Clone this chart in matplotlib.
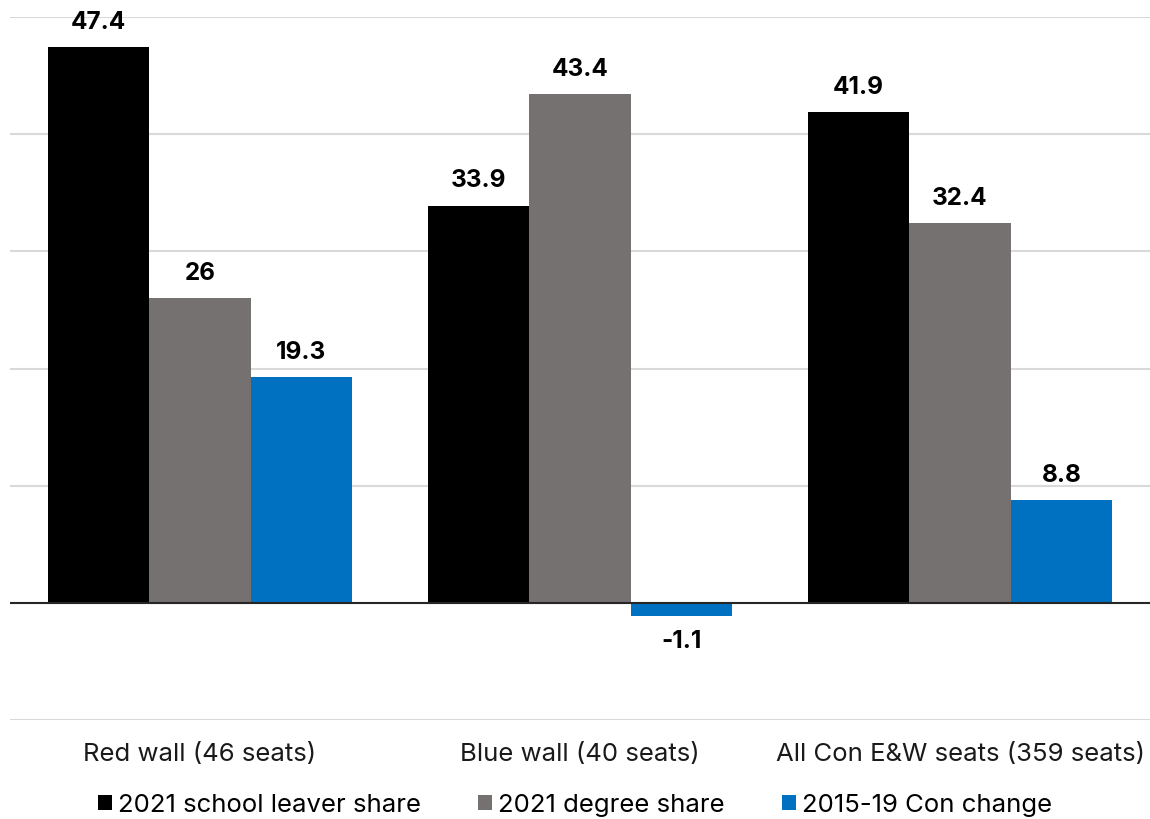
import matplotlib.pyplot as plt
import numpy as np

# data
categories = ["Red wall (46 seats)", "Blue wall (40 seats)",
              "All Con E&W seats (359 seats)"]
series_names = ["2021 school leaver share", "2021 degree share",
                "2015-19 Con change"]
school_leaver = [47.4, 33.9, 41.9]
degree = [26, 43.4, 32.4]
con_change = [19.3, -1.1, 8.8]
value_labels = [["47.4", "33.9", "41.9"],
                ["26", "43.4", "32.4"],
                ["19.3", "-1.1", "8.8"]]

colors = ["#000000", "#767171", "#0070C0"]

plt.rcParams['font.family'] = ['Inter', 'DejaVu Sans']

fig = plt.figure(figsize=(11.5, 8.2), dpi=100)
ax = fig.add_axes([10 / 1150, 1 - 721 / 820, 1140 / 1150, 703 / 820])

x = np.arange(len(categories))
width = 0.8 / 3
all_series = [school_leaver, degree, con_change]

for i, (vals, name, col) in enumerate(zip(all_series, series_names, colors)):
    pos = x + (i - 1) * width
    ax.bar(pos, vals, width, color=col, label=name, zorder=2,
           edgecolor='none')
    for px, v, lab in zip(pos, vals, value_labels[i]):
        off = 18.5 if v >= 0 else -18
        ax.annotate(lab, (px, v), xytext=(0, off), textcoords='offset points',
                    ha='center', va='center', fontsize=17.5,
                    fontweight='bold', annotation_clip=False)

# gridlines and zero line
for gy in np.arange(-10, 51, 10):
    ax.axhline(gy, color='#d9d9d9', linewidth=1.5, zorder=0)
ax.axhline(0, color='#262626', linewidth=1.5, zorder=3)

ax.set_xlim(-0.5, 2.5)
ax.set_ylim(-10, 50)
ax.set_yticks([])
ax.set_xticks([])
for s in ax.spines.values():
    s.set_visible(False)

# category labels under the bottom gridline
for xi, cat in zip(x, categories):
    ax.text(xi, -12.9, cat, ha='center', va='center',
            fontsize=18.5, color='#1a1a1a')

fig.legend(loc='center', bbox_to_anchor=(0.5, 1 - 806 / 820), ncol=3,
           frameon=False, fontsize=18.5, handlelength=0.55, handleheight=0.55,
           handletextpad=0.25, columnspacing=2.2)

fig.savefig("out.png", dpi=100)
